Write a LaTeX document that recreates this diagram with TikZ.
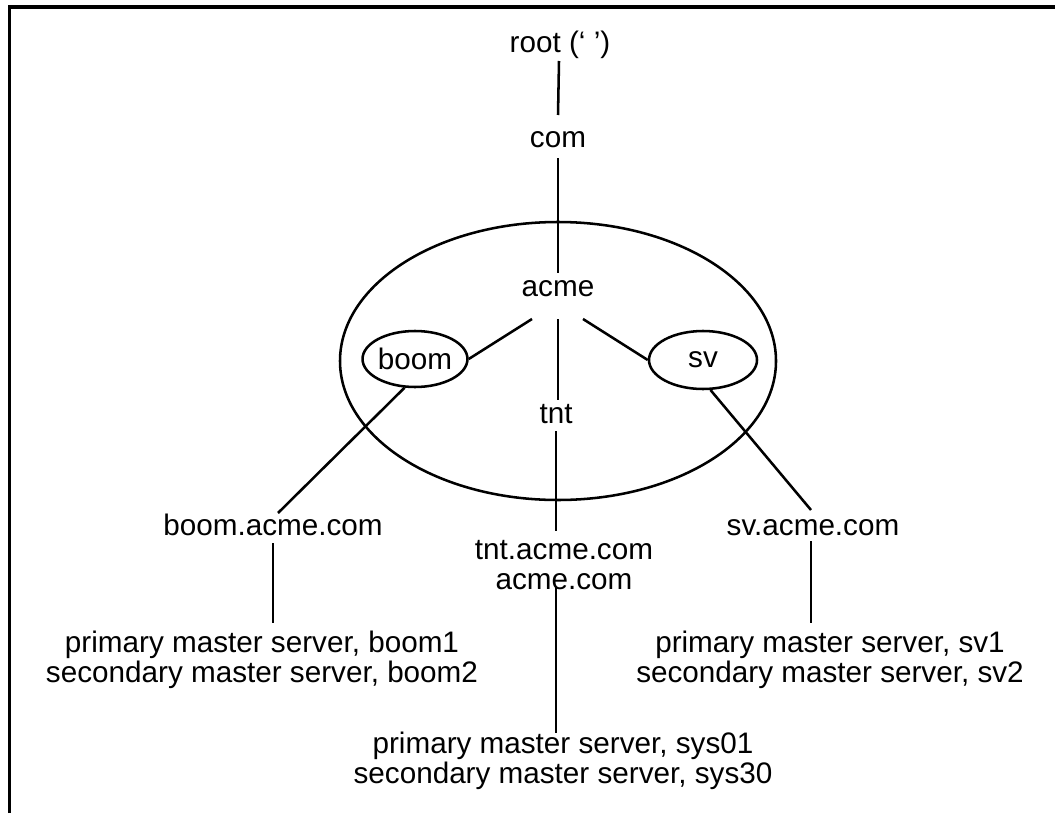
\documentclass[tikz,border=0pt]{standalone}
\usepackage{fontspec}
\setmainfont{Liberation Sans}
\usetikzlibrary{shapes.geometric,calc}
\begin{document}
\begin{tikzpicture}[x=0.75pt,y=-0.75pt,
  txt/.style={font=\fontsize{22.25pt}{22.5pt}\selectfont},
  lbl/.style={txt, inner sep=0pt, anchor=base},
  blk/.style={lbl, align=center},
  wire/.style={line width=1.9pt},
  zone/.style={txt, draw, ellipse, line width=1.9pt, inner sep=0pt}]
\useasboundingbox (0,0) rectangle (1055,813);

% page frame: top and left rules only
\draw[line width=2.3pt] (9.5,813) -- (9.5,7) -- (1055,7);

% name tree
\node[lbl] (root) at (560,53) {root (‘ ’)};
\node[lbl] (com) at (558,147) {com};
\node[zone, minimum width=327pt, minimum height=208.5pt] (domain) at (558,361) {};
\node[lbl] (acme) at (558,296) {acme};
\node[lbl] (tnt) at (556,423) {tnt};
\node[zone, minimum width=78pt, minimum height=42pt] (boom) at (415,359) {boom};
\node[zone, minimum width=81pt, minimum height=43.5pt] (sv) at (703,360) {sv};

% zones and their servers (base = last line)
\node[lbl] (boomdom) at (273,535) {boom.acme.com};
\node[lbl] (svdom) at (813,535) {sv.acme.com};
\node[blk] (tntdom) at (564,589) {tnt.acme.com\\acme.com};
\node[blk] (boomsrv) at (262,682) {primary master server, boom1\\secondary master server, boom2};
\node[blk] (svsrv) at (830,682) {primary master server, sv1\\secondary master server, sv2};
\node[blk] (tntsrv) at (563,783) {primary master server, sys01\\secondary master server, sys30};

% connectors
\draw[wire] ($(root.base)+(-1,8)$) -- ($(com.base)+(0,-32)$);
\draw[wire] ($(com.base)+(0,11)$) -- ($(acme.base)+(0,-23)$);
\draw[wire] ($(acme.base)+(0,23)$) -- ($(tnt.base)+(2,-23)$);
\draw[wire] ($(acme.base)+(-26,23)$) -- (boom.east);
\draw[wire] ($(acme.base)+(25,23)$) -- (sv.west);
\draw[wire] ($(tnt.base)+(0,8)$) -- ($(tntdom.base)+(-8,-58)$);
\draw[wire] (boom.-110) -- ($(boomdom.base)+(5,-22)$);
\draw[wire] (sv.-76) -- ($(svdom.base)+(-2,-25)$);
\draw[wire] ($(boomdom.base)+(0,8)$) -- ($(boomsrv.base)+(11,-59)$);
\draw[wire] ($(svdom.base)+(-2,6)$) -- ($(svsrv.base)+(-19,-59)$);
\draw[wire] ($(tntdom.base)+(-8,-3)$) -- ($(tntsrv.base)+(-7,-50)$);
\end{tikzpicture}
\end{document}
